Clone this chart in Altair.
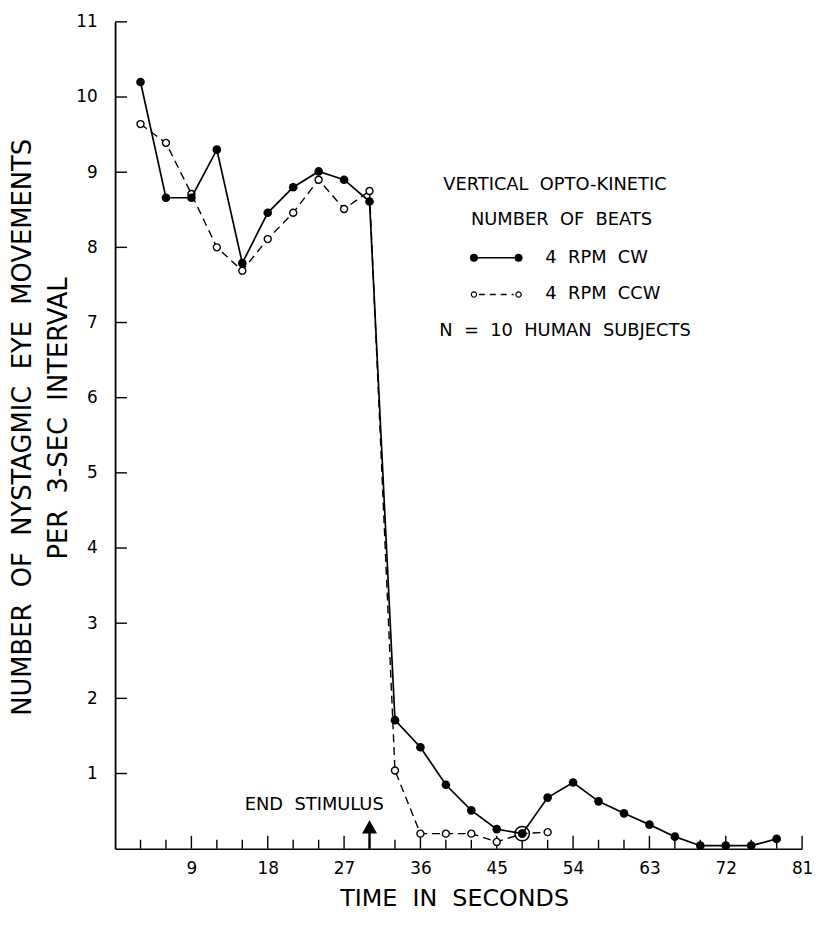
import altair as alt
import pandas as pd

# ---- data ----
cw_time = [3, 6, 9, 12, 15, 18, 21, 24, 27, 30, 33, 36, 39, 42, 45, 48, 51,
           54, 57, 60, 63, 66, 69, 72, 75, 78]
cw_beats = [10.20, 8.66, 8.66, 9.30, 7.79, 8.46, 8.80, 9.01, 8.90, 8.61,
            1.71, 1.35, 0.85, 0.51, 0.26, 0.20, 0.68, 0.88, 0.63, 0.47,
            0.32, 0.16, 0.04, 0.04, 0.04, 0.13]
ccw_time = [3, 6, 9, 12, 15, 18, 21, 24, 27, 30, 33, 36, 39, 42, 45, 48, 51]
ccw_beats = [9.64, 9.39, 8.71, 8.00, 7.69, 8.11, 8.46, 8.90, 8.51, 8.75,
             1.04, 0.20, 0.20, 0.20, 0.09, 0.20, 0.22]
overlap_time = [48]
overlap_beats = [0.20]
stimulus_end = [30]

x_label_values = [9, 18, 27, 36, 45, 54, 63, 72, 81]
x_minor_ticks = [3, 6, 12, 15, 21, 24, 30, 33, 39, 42, 48, 51, 57, 60, 66, 69, 75, 78]
y_label_values = [1, 2, 3, 4, 5, 6, 7, 8, 9, 10, 11]

y_title_lines = ["NUMBER OF NYSTAGMIC EYE MOVEMENTS", "PER 3-SEC INTERVAL"]
x_title = "TIME IN SECONDS"
legend_title_lines = ["VERTICAL OPTO-KINETIC", "NUMBER OF BEATS"]
series_labels = ["4 RPM CW", "4 RPM CCW"]
subjects_note = "N = 10 HUMAN SUBJECTS"
stimulus_label = "END STIMULUS"

# ---- layout ----
W, H = 693, 834
FONT = "DejaVu Sans"
NB = "\u00a0\u00a0"


def spaced(s):
    return s.replace(" ", NB)


x_scale = alt.Scale(domain=[0, 81], nice=False, zero=False)
y_scale = alt.Scale(domain=[0, 11], nice=False, zero=True)

cw = pd.DataFrame({"time": cw_time, "beats": cw_beats})
ccw = pd.DataFrame({"time": ccw_time, "beats": ccw_beats})
ovl = pd.DataFrame({"time": overlap_time, "beats": overlap_beats})
one = pd.DataFrame({"k": [0]})

x_axis = alt.Axis(
    values=x_label_values, ticks=False, grid=False,
    domainColor="black", domainWidth=1.6,
    labelFont=FONT, labelFontSize=17, labelColor="black", labelPadding=12,
    labelFlush=False, labelOverlap=False,
    title=spaced(x_title), titleFont=FONT, titleFontSize=24,
    titleFontWeight="normal", titleColor="black",
    titleX=342, titleY=50, titleAlign="center", titleBaseline="middle",
)
y_axis = alt.Axis(
    values=y_label_values, ticks=False, grid=False,
    domainColor="black", domainWidth=1.8,
    labelFont=FONT, labelFontSize=17, labelColor="black", labelPadding=18,
    labelFlush=False, labelOverlap=False, title="",
)

X = alt.X("time:Q", scale=x_scale, axis=x_axis, title=spaced(x_title))
Y = alt.Y("beats:Q", scale=y_scale, axis=y_axis, title="")

layers = []

# axis ticks pointing inward
layers.append(
    alt.Chart(pd.DataFrame({"time": x_minor_ticks})).mark_rule(color="black", strokeWidth=1.4)
    .encode(x=X, y=alt.value(H), y2=alt.value(H - 9))
)
layers.append(
    alt.Chart(pd.DataFrame({"time": x_label_values})).mark_rule(color="black", strokeWidth=1.4)
    .encode(x=X, y=alt.value(H), y2=alt.value(H - 13))
)
layers.append(
    alt.Chart(pd.DataFrame({"beats": y_label_values})).mark_rule(color="black", strokeWidth=1.4)
    .encode(y=Y, x=alt.value(0), x2=alt.value(12))
)

# CCW series (dashed, open circles)
layers.append(
    alt.Chart(ccw).mark_line(color="black", strokeWidth=1.4, strokeDash=[8, 5])
    .encode(x=X, y=Y)
)
layers.append(
    alt.Chart(ccw).mark_circle(fill="white", stroke="black", strokeWidth=1.4, size=50, opacity=1)
    .encode(x=X, y=Y)
)
# CW series (solid, filled circles)
layers.append(
    alt.Chart(cw).mark_line(color="black", strokeWidth=1.7)
    .encode(x=X, y=Y)
)
layers.append(
    alt.Chart(cw).mark_circle(color="black", size=76, opacity=1)
    .encode(x=X, y=Y)
)
# overlap ring
layers.append(
    alt.Chart(ovl).mark_point(shape="circle", filled=False, color="black", size=210,
                              strokeWidth=1.5, opacity=1)
    .encode(x=X, y=Y)
)

# end stimulus arrow
stim = pd.DataFrame({"time": stimulus_end})
layers.append(
    alt.Chart(stim).mark_rule(color="black", strokeWidth=2.4)
    .encode(x=X, y=alt.value(H), y2=alt.value(H - 16))
)
layers.append(
    alt.Chart(stim).mark_point(shape="triangle-up", filled=True, color="black", size=230, opacity=1)
    .encode(x=X, y=alt.value(H - 22))
)


def text_at(txt, x, y, size=18, align="left", angle=0):
    kw = dict(font=FONT, fontSize=size, color="black", align=align, baseline="middle")
    if angle:
        kw["angle"] = angle
    return alt.Chart(one).mark_text(**kw).encode(
        x=alt.value(x), y=alt.value(y), text=alt.value(txt)
    )


def dot_at(x, y, filled, size):
    if filled:
        m = alt.Chart(one).mark_circle(color="black", size=size, opacity=1)
    else:
        m = alt.Chart(one).mark_circle(fill="white", stroke="black", strokeWidth=1.2,
                                       size=size, opacity=1)
    return m.encode(x=alt.value(x), y=alt.value(y))


layers.append(text_at(spaced(stimulus_label), 271, 790, size=18, align="right"))

# legend
layers.append(text_at(spaced(legend_title_lines[0]), 331, 165))
layers.append(text_at(spaced(legend_title_lines[1]), 359, 200))
layers.append(text_at(spaced(series_labels[0]), 434, 238))
layers.append(text_at(spaced(series_labels[1]), 434, 275))
layers.append(text_at(spaced(subjects_note), 327, 312))

layers.append(
    alt.Chart(one).mark_rule(color="black", strokeWidth=1.5)
    .encode(x=alt.value(362), x2=alt.value(407), y=alt.value(238))
)
layers.append(dot_at(362, 238, True, 64))
layers.append(dot_at(407, 238, True, 64))
layers.append(
    alt.Chart(one).mark_rule(color="black", strokeWidth=1.4, strokeDash=[6, 5])
    .encode(x=alt.value(367), x2=alt.value(402), y=alt.value(275))
)
layers.append(dot_at(362, 275, False, 28))
layers.append(dot_at(407, 275, False, 28))

# y axis title (two lines)
layers.append(text_at(spaced(y_title_lines[0]), -93, 409, size=26, align="center", angle=270))
layers.append(text_at(spaced(y_title_lines[1]), -56, 400, size=26, align="center", angle=270))

chart = (
    alt.layer(*layers)
    .properties(
        width=W, height=H,
        padding={"left": 108, "top": 10, "right": 12, "bottom": 74},
        autosize=alt.AutoSizeParams(type="none"),
        background="white",
    )
    .configure_view(strokeWidth=0)
)

chart.save("out.html", embed_options={"renderer": "svg", "actions": False})
